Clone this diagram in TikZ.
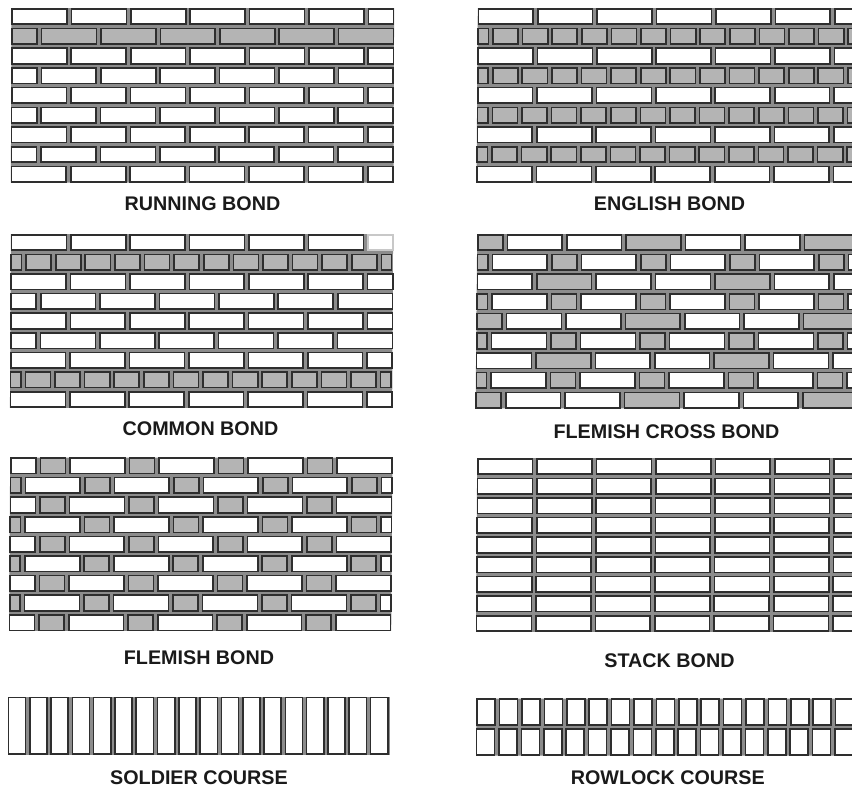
\documentclass[tikz,border=0pt]{standalone}
\usepackage{fontspec}
\setmainfont{Liberation Sans}
\definecolor{brickgray}{HTML}{B4B4B4}
\definecolor{inkline}{HTML}{2E2E2E}
\definecolor{paleline}{HTML}{C8C8C8}
\definecolor{jointgray}{HTML}{8C8C8C}
\definecolor{inktext}{HTML}{1A1A1A}
\tikzset{
  brickline/.style={line width=1.25pt,line join=miter},
  bondlabel/.style={font=\fontsize{14.8}{16}\selectfont\bfseries,text=inktext,anchor=base,inner sep=0pt}
}
% wall state
\def\wg{3.0}\def\wh{17}
\newcommand\startwall[4]{\xdef\wx{#1}\xdef\wy{#2}\xdef\wp{#3}\xdef\ws{#4}\xdef\wn{0}}
% joint backing: width of the wall, number of courses
\newcommand\wallback[2]{%
  \pgfmathsetmacro\bxa{\wx+0.2}\pgfmathsetmacro\bxb{\wx+#1-0.2}%
  \pgfmathsetmacro\bya{\wy+0.2}\pgfmathsetmacro\byb{\wy+\wp*(#2-1)+\wh-0.2}%
  \pgfmathsetmacro\bsk{\ws*(#2-1)}%
  \fill[jointgray] (\bxa,\bya) -- (\bxb,\bya) -- (\bxb+\bsk,\byb) -- (\bxa+\bsk,\byb) -- cycle;}
\newcommand\brick[3]{%
  \pgfmathsetmacro\xa{\curx+0.75}\pgfmathsetmacro\xb{\curx+#1-0.75}%
  \pgfmathsetmacro\ya{\cury+0.75}\pgfmathsetmacro\yb{\cury+\wh-0.75}%
  \draw[brickline,fill=#2,draw=#3] (\xa,\ya) rectangle (\xb,\yb);%
  \pgfmathsetmacro\xc{\curx+#1+\wg}\xdef\curx{\xc}}
\newcommand\course[1]{%
  \pgfmathsetmacro\xc{\wx+\ws*\wn}\xdef\curx{\xc}%
  \pgfmathsetmacro\yc{\wy+\wp*\wn}\xdef\cury{\yc}%
  #1%
  \pgfmathtruncatemacro\nn{\wn+1}\xdef\wn{\nn}}
\def\wS{\brick{56.4}{white}{inkline}}
\def\gS{\brick{56.4}{brickgray}{inkline}}
\def\wH{\brick{26.6}{white}{inkline}}
\def\gH{\brick{26.6}{brickgray}{inkline}}
\def\pH{\brick{26.6}{white}{paleline}}
\def\gQ{\brick{11.8}{brickgray}{inkline}}
\def\wQ{\brick{11.8}{white}{inkline}}
% repeated courses
\def\rA{\wS\wS\wS\wS\wS\wS\wH}
\def\rB{\wH\wS\wS\wS\wS\wS\wS}
\def\rSx{\wS\wS\wS\wS\wS\wS\wS\wS}
\def\rG{\gQ\gH\gH\gH\gH\gH\gH\gH\gH\gH\gH\gH\gH\gH\gH}
\def\rC{\gQ\gH\gH\gH\gH\gH\gH\gH\gH\gH\gH\gH\gH\gQ}
\def\xA{\gH\wS\wS\gS\wS\wS\gS}
\def\xB{\gQ\wS\gH\wS\gH\wS\gH\wS\gH\wS}
\def\xC{\wS\gS\wS\wS\gS\wS\wS\wS}
\def\fA{\wH\gH\wS\gH\wS\gH\wS\gH\wS}
\def\fB{\gQ\wS\gH\wS\gH\wS\gH\wS\gH\wQ}
\begin{document}
\begin{tikzpicture}[x=0.75pt,y=-0.75pt]
\useasboundingbox (0,0) rectangle (852,788);
\clip (0,0) rectangle (852,788);
\fill[white] (0,0) rectangle (852,788);

% RUNNING BOND
\startwall{11.3}{8}{19.72}{-0.08}
\wallback{383}{9}
\course{\rA}
\course{\gH\gS\gS\gS\gS\gS\gS}
\course{\rA}\course{\rB}\course{\rA}\course{\rB}\course{\rA}\course{\rB}\course{\rA}
\node[bondlabel] (running) at (202.5,210) {RUNNING BOND};

% ENGLISH BOND
\startwall{477.6}{8}{19.72}{-0.16}
\wallback{400}{9}
\course{\rSx}\course{\rG}\course{\rSx}\course{\rG}\course{\rSx}\course{\rG}\course{\rSx}\course{\rG}\course{\rSx}
\node[bondlabel] (english) at (669.5,210) {ENGLISH BOND};

% COMMON BOND
\startwall{10.7}{234}{19.63}{-0.12}
\wallback{382.6}{9}
\course{\wS\wS\wS\wS\wS\wS\pH}
\course{\rC}
\course{\rA}\course{\rB}\course{\rA}\course{\rB}\course{\rA}
\course{\rC}
\course{\rA}
\node[bondlabel] (common) at (200.5,435) {COMMON BOND};

% FLEMISH CROSS BOND
\startwall{477}{234}{19.7}{-0.2}
\wallback{400}{9}
\course{\xA}\course{\xB}\course{\xC}\course{\xB}\course{\xA}\course{\xB}\course{\xC}\course{\xB}\course{\xA}
\node[bondlabel] (cross) at (666.5,438) {FLEMISH CROSS BOND};

% FLEMISH BOND
\startwall{10}{457.3}{19.6}{-0.15}
\wallback{382.6}{9}
\course{\fA}\course{\fB}\course{\fA}\course{\fB}\course{\fA}\course{\fB}\course{\fA}\course{\fB}\course{\fA}
\node[bondlabel] (flemish) at (199,664) {FLEMISH BOND};

% STACK BOND
\startwall{477}{458}{19.62}{-0.15}
\wallback{400}{9}
\course{\rSx}\course{\rSx}\course{\rSx}\course{\rSx}\course{\rSx}\course{\rSx}\course{\rSx}\course{\rSx}\course{\rSx}
\node[bondlabel] (stack) at (669.5,667.7) {STACK BOND};

% SOLDIER COURSE
\def\wg{2.6}\def\wh{58.3}
\def\sU{\brick{18.7}{white}{inkline}}
\startwall{7.7}{696.7}{0}{0}
\wallback{382.2}{1}
\course{\sU\sU\sU\sU\sU\sU\sU\sU\sU\sU\sU\sU\sU\sU\sU\sU\sU\sU}
\node[bondlabel] (soldier) at (199,784.7) {SOLDIER COURSE};

% ROWLOCK COURSE
\def\wg{2.9}\def\wh{27.6}
\def\rU{\brick{19.5}{white}{inkline}}
\startwall{476.4}{698.3}{30}{-0.6}
\wallback{400}{2}
\course{\rU\rU\rU\rU\rU\rU\rU\rU\rU\rU\rU\rU\rU\rU\rU\rU\rU\rU}
\course{\rU\rU\rU\rU\rU\rU\rU\rU\rU\rU\rU\rU\rU\rU\rU\rU\rU\rU}
\node[bondlabel] (rowlock) at (667.8,784.7) {ROWLOCK COURSE};
\end{tikzpicture}
\end{document}
